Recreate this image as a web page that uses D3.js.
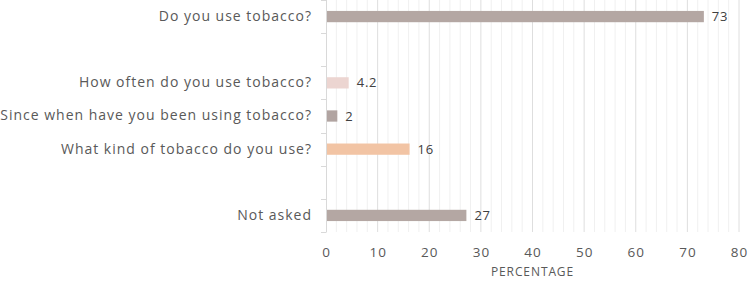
<!DOCTYPE html>
<html>
<head>
<meta charset="utf-8">
<script src="https://cdn.jsdelivr.net/npm/d3@7"></script>
<style>
  html, body { margin: 0; padding: 0; background: #fff; }
  #chart { width: 748px; height: 281px; }
</style>
</head>
<body>
<div id="chart"></div>
<script>
// dữ liệu
const categories = [
  "Do you use tobacco?",
  "",
  "How often do you use tobacco?",
  "Since when have you been using tobacco?",
  "What kind of tobacco do you use?",
  "",
  "Not asked"
];
const values = [73, null, 4.2, 2, 16, null, 27];
const valueLabels = ["73", "", "4.2", "2", "16", "", "27"];
const barColors = ["#b4a7a3", null, "#ecd5d1", "#b1a4a1", "#f2c4a4", null, "#b4a7a3"];
const xTicks = [0, 10, 20, 30, 40, 50, 60, 70, 80];
const xTitle = "PERCENTAGE";

(function () {
  const W = 748, H = 281;
  const margin = { top: 0, right: 9, bottom: 49, left: 326 };
  const innerW = W - margin.left - margin.right;
  const innerH = H - margin.top - margin.bottom;
  const font = "'Open Sans', sans-serif";

  const svg = d3.select("#chart").append("svg")
    .attr("width", W).attr("height", H);
  const g = svg.append("g")
    .attr("transform", `translate(${margin.left},${margin.top})`);

  const x = d3.scaleLinear().domain([0, 80]).range([0, innerW]);
  const y = d3.scaleBand()
    .domain(d3.range(categories.length))
    .range([0, innerH])
    .paddingInner(0.66)
    .paddingOuter(0.33);

  // lưới dọc: phụ mỗi 2, chính mỗi 10
  const minor = d3.range(2, 81, 2).filter(v => v % 10 !== 0);
  g.append("g").selectAll("line").data(minor).join("line")
    .attr("x1", d => x(d)).attr("x2", d => x(d))
    .attr("y1", 0).attr("y2", innerH)
    .attr("stroke", "#f0f0f0").attr("stroke-width", 1);
  g.append("g").selectAll("line").data(xTicks.filter(v => v > 0)).join("line")
    .attr("x1", d => x(d)).attr("x2", d => x(d))
    .attr("y1", 0).attr("y2", innerH)
    .attr("stroke", "#dedede").attr("stroke-width", 1);

  // trục trái + vạch ở ranh giới hàng
  g.append("line")
    .attr("x1", 0.5).attr("x2", 0.5).attr("y1", 0).attr("y2", innerH)
    .attr("stroke", "#d9d9d9");
  const step = y.step();
  g.append("g").selectAll("line").data(d3.range(categories.length + 1)).join("line")
    .attr("x1", -5).attr("x2", 0.5)
    .attr("y1", d => Math.round(y(0) - y.paddingOuter() * step + d * step) + 0.5)
    .attr("y2", d => Math.round(y(0) - y.paddingOuter() * step + d * step) + 0.5)
    .attr("stroke", "#d9d9d9");

  const yAxis = g.append("g")
    .call(d3.axisLeft(y).tickSize(0).tickPadding(14).tickFormat(i => categories[i]));
  yAxis.select(".domain").remove();
  yAxis.selectAll("text")
    .style("font-family", font).style("font-size", "14px")
    .style("letter-spacing", "1px").attr("fill", "#595959");

  const xAxis = g.append("g")
    .attr("transform", `translate(0,${innerH})`)
    .call(d3.axisBottom(x).tickValues(xTicks).tickSize(0).tickPadding(15));
  xAxis.select(".domain").remove();
  xAxis.selectAll("text")
    .style("font-family", font).style("font-size", "13.5px")
    .style("letter-spacing", "1px").attr("fill", "#595959");

  g.append("text")
    .attr("x", innerW / 2 - 0)
    .attr("y", innerH + 44)
    .attr("text-anchor", "middle")
    .style("font-family", font).style("font-size", "12px")
    .style("letter-spacing", "0.9px")
    .attr("fill", "#595959")
    .text(xTitle);

  const data = values.map((v, i) => ({ i, v, label: valueLabels[i], color: barColors[i] }))
    .filter(d => d.v != null);

  g.selectAll(".bar").data(data).join("rect")
    .attr("class", "bar")
    .attr("x", x(0) + 1)
    .attr("y", d => y(d.i))
    .attr("width", d => x(d.v) - x(0))
    .attr("height", y.bandwidth())
    .attr("fill", d => d.color);

  g.selectAll(".val").data(data).join("text")
    .attr("class", "val")
    .attr("x", d => x(d.v) + 9)
    .attr("y", d => y(d.i) + y.bandwidth() / 2)
    .attr("dy", "0.35em")
    .style("font-family", font).style("font-size", "13px")
    .style("letter-spacing", "0.8px")
    .attr("fill", "#404040")
    .text(d => d.label);
})();
</script>
</body>
</html>
